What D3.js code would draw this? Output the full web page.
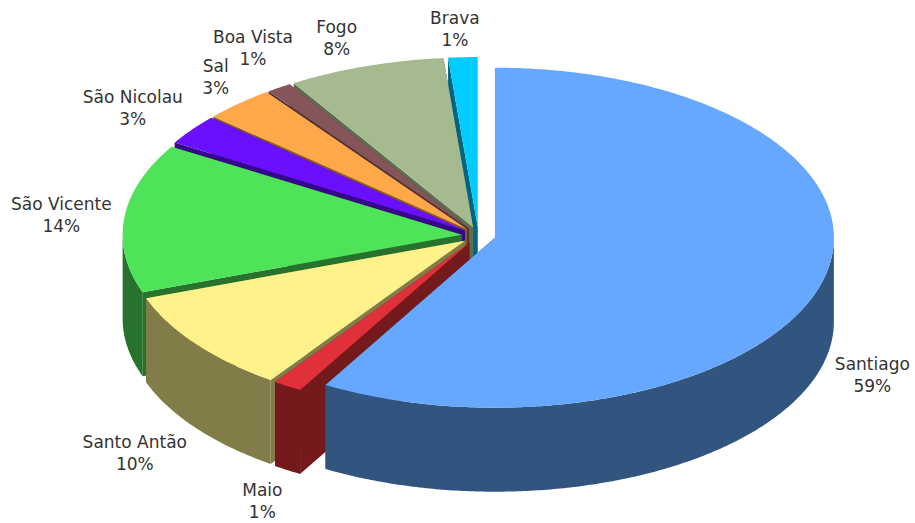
<!DOCTYPE html>
<html>
<head>
<meta charset="utf-8">
<script src="https://cdn.jsdelivr.net/npm/d3@7/dist/d3.min.js"></script>
<style>
html,body{margin:0;padding:0;background:#fff;}
text{font-family:"DejaVu Sans",Verdana,sans-serif;font-size:17px;fill:#333;text-anchor:middle;}
</style>
</head>
<body>
<svg id="chart" width="915" height="523"></svg>
<script>
// Population share by island, clockwise from twelve o'clock
const islands = ["Santiago","Maio","Santo Antão","São Vicente","São Nicolau","Sal","Boa Vista","Fogo","Brava"];
const shares = [58.5,1.4,9.8,14.2,2.9,3.4,1.2,7.5,1.4];
const topColors = ["#66a8ff","#e0313a","#fff28a","#4fe35a","#6a10ff","#ffa84a","#85555a","#a5bb8f","#00ccff"];
const sideColors = ["#31557f","#751a1c","#827c48","#27722d","#35088a","#8a5a26","#4f3236","#5f6c52","#006680"];
// Label nudges away from each slice's outer midpoint
const labelNudgeX = [50,-25,-61,-63,-59,-23,-26,-29,-8];
const labelNudgeY = [93,115,109,-3,-22,-27,-40,-28,-28];

const cx = 478.5, cy = 235.5, rx = 339, ry = 170, depth = 84, explode = 0.05;

const svg = d3.select("#chart");
const pie = d3.pie().sort(null).value(d => d)(shares);
const sx = d3.scaleLinear().domain([-1,1]).range([cx-rx,cx+rx]);
const sy = d3.scaleLinear().domain([-1,1]).range([cy+ry,cy-ry]);
const line = d3.line();

// Plan position (x right, y to the back) → screen position at height z below the top
function project(px, py, z){ return [sx(px), sy(py)+z]; }

function sliceShape(d){
  const mid = (d.startAngle+d.endAngle)/2;
  const ox = explode*Math.sin(mid), oy = explode*Math.cos(mid);
  const arcPts = (a0,a1,z) => {
    const n = Math.max(2,Math.ceil((a1-a0)/0.01));
    return d3.range(n+1).map(i => {
      const a = a0+(a1-a0)*i/n;
      return project(ox+Math.sin(a), oy+Math.cos(a), z);
    });
  };
  return {mid, ox, oy, arcPts, apex: z => project(ox,oy,z)};
}

// Painted from Brava round to Santiago so nearer slices cover the walls behind them
d3.range(shares.length).reverse().forEach(i => {
  const d = pie[i], s = sliceShape(d);
  const g = svg.append("g").attr("class","slice");
  const a0 = d.startAngle, a1 = d.endAngle;

  // radial walls
  [a0,a1].forEach(a => {
    const edge = s.arcPts(a,a,0)[0], edgeLow = s.arcPts(a,a,depth)[0];
    g.append("path")
      .attr("d", line([s.apex(0),edge,edgeLow,s.apex(depth)])+"Z")
      .attr("fill",sideColors[i]);
  });

  // outer wall, only the part that faces the viewer
  const f0 = Math.max(a0,Math.PI/2), f1 = Math.min(a1,Math.PI*1.5);
  if (f1>f0){
    g.append("path")
      .attr("d", line(s.arcPts(f0,f1,0).concat(s.arcPts(f0,f1,depth).reverse()))+"Z")
      .attr("fill",sideColors[i]);
  }

  // top face
  g.append("path")
    .attr("d", line([s.apex(0)].concat(s.arcPts(a0,a1,0)))+"Z")
    .attr("fill",topColors[i]);
});

// Two-line labels: island name over rounded share
pie.forEach((d,i) => {
  const mid = (d.startAngle+d.endAngle)/2;
  const k = 1+explode;
  const [lx,ly] = project(k*Math.sin(mid),k*Math.cos(mid),0);
  const t = svg.append("text")
    .attr("transform",`translate(${lx+labelNudgeX[i]},${ly+labelNudgeY[i]})`);
  t.append("tspan").attr("x",0).attr("y",-5).text(islands[i]);
  t.append("tspan").attr("x",0).attr("y",17).text(Math.round(shares[i])+"%");
});
</script>
</body>
</html>
